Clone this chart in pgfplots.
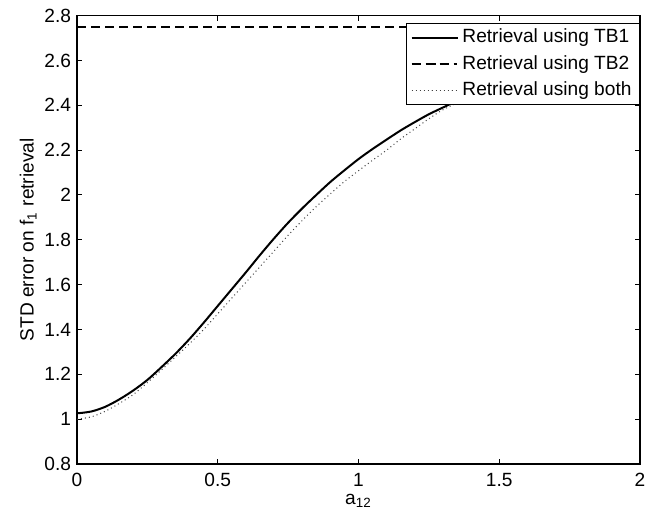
\documentclass[border=0pt]{standalone}
\usepackage{fontspec}
\setmainfont{Liberation Sans}
\usepackage{pgfplots}
\pgfplotsset{compat=1.18}
\begin{document}
\begin{tikzpicture}
\begin{axis}[
    at={(0,0)}, anchor=south west,
    scale only axis,
    width=281.5bp, height=224.2bp,
    xmin=0, xmax=2, ymin=0.8, ymax=2.8,
    xtick={0,0.5,1,1.5,2},
    ytick={0.8,1,1.2,1.4,1.6,1.8,2,2.2,2.4,2.6,2.8},
    tick align=inside, tick pos=both,
    major tick length=2.5bp,
    axis line style={line width=0.75bp},
    every tick/.style={black, line width=0.5bp},
    font=\fontsize{9.6}{11}\selectfont,
    /pgf/number format/assume math mode=true,
    ticklabel style={font=\fontsize{9.6}{11}\selectfont},
    xticklabel style={yshift=-1bp},
    yticklabel style={xshift=0.5bp},
    xlabel={a\textsubscript{12}},
    ylabel={STD error on f\textsubscript{1} retrieval},
    xlabel style={yshift=3bp},
    ylabel style={yshift=-3bp},
    legend style={at={(1,1)}, anchor=north east, yshift=-3.5bp,
        draw=black, line width=0.5bp, fill=white,
        font=\fontsize{9.6}{11}\selectfont, row sep=0.8bp,
        inner xsep=2bp, inner ysep=1bp},
    legend cell align=left,
    legend image post style={xscale=1.35},
]
% TB1
\addplot[black, line width=1bp, smooth] coordinates {
(0,1.026) (0.05,1.034) (0.1,1.055) (0.15,1.088) (0.2,1.128) (0.25,1.175)
(0.3,1.232) (0.35,1.292) (0.4,1.358) (0.45,1.43) (0.5,1.505) (0.55,1.58)
(0.6,1.655) (0.65,1.732) (0.7,1.806) (0.75,1.876) (0.8,1.94) (0.85,2.0)
(0.9,2.058) (0.95,2.11) (1.0,2.16) (1.05,2.205) (1.1,2.247) (1.15,2.288)
(1.2,2.325) (1.25,2.36) (1.3,2.39) (1.35,2.42) (1.4,2.45) (1.5,2.5)
(1.6,2.55) (1.8,2.62) (2.0,2.67)
};
% TB2
\addplot[black, line width=0.75bp, dash pattern=on 4.5bp off 2.5bp] coordinates {
(0,2.75) (2,2.75)
};
% both
\addplot[black!75, line width=0.5bp, dash pattern=on 0.5bp off 1.5bp, smooth] coordinates {
(0,1.0) (0.05,1.01) (0.1,1.035) (0.15,1.07) (0.2,1.11) (0.25,1.163)
(0.3,1.22) (0.35,1.278) (0.4,1.337) (0.45,1.40) (0.5,1.47) (0.55,1.54)
(0.6,1.61) (0.65,1.68) (0.7,1.75) (0.75,1.82) (0.8,1.886) (0.85,1.948)
(0.9,2.005) (0.95,2.06) (1.0,2.108) (1.05,2.155) (1.1,2.2) (1.15,2.25)
(1.2,2.295) (1.25,2.34) (1.3,2.38) (1.35,2.41) (1.4,2.44) (1.5,2.49)
(1.6,2.54) (1.8,2.61) (2.0,2.66)
};
\legend{Retrieval using TB1, Retrieval using TB2, Retrieval using both}
\end{axis}
\pgfresetboundingbox
\useasboundingbox (-38.5bp,-25bp) rectangle (290bp,232bp);
\end{tikzpicture}
\end{document}
